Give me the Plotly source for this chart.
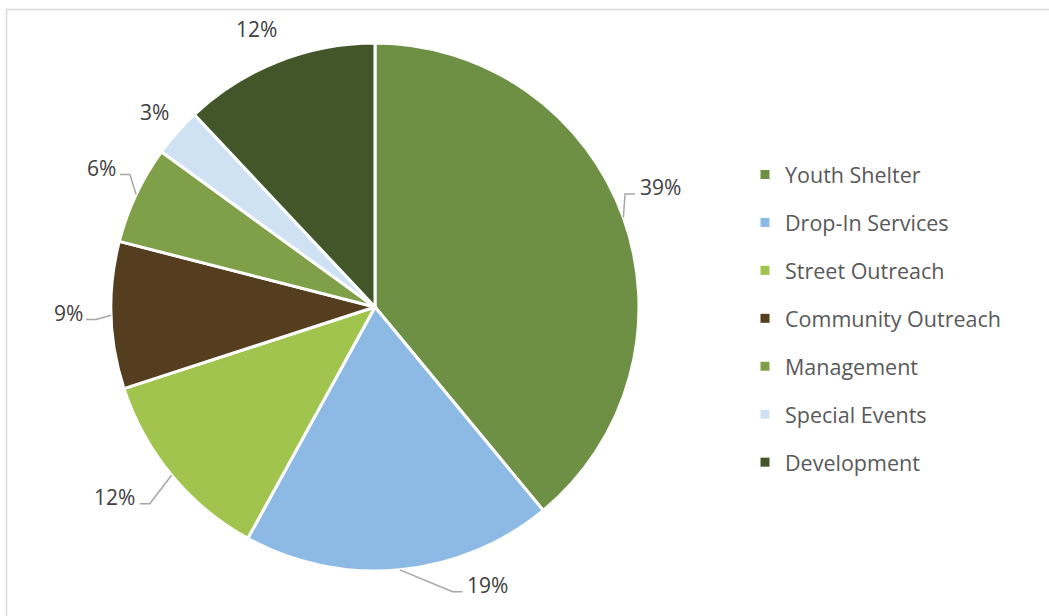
import math
import plotly.graph_objects as go

# Program budget shares
categories = ["Youth Shelter", "Drop-In Services", "Street Outreach",
              "Community Outreach", "Management", "Special Events", "Development"]
shares = [39, 19, 12, 9, 6, 3, 12]
colors = ["#6E9045", "#8CBAE4", "#A0C44E", "#553E1F", "#7FA049", "#CFE2F3", "#42562A"]

# Label placement tweaks (pixels) relative to a point just outside each slice
label_nudge = [(-1, -17), (84, -25), (-26, -4), (-3, -4), (2, -10), (8, 6), (-7, 5)]
has_leader = [True, True, True, True, True, False, False]

W, H = 1049, 616
CX, CY, R = 375, 307, 264
LABEL_GAP = 40
FONT = "Open Sans"


def px(x, y):
    return x / W, 1 - y / H


fig = go.Figure()
fig.add_trace(go.Pie(
    labels=categories, values=shares, sort=False, direction="clockwise",
    rotation=0, marker=dict(colors=colors, line=dict(color="white", width=3)),
    textinfo="none", hoverinfo="label+percent", showlegend=False,
    domain=dict(x=[(CX - R) / W, (CX + R) / W], y=[(H - CY - R) / H, (H - CY + R) / H]),
))

# Legend entries as separate groups so spacing can be controlled
for name, col in zip(categories, colors):
    fig.add_trace(go.Scatter(
        x=[None], y=[None], mode="markers", name=name, legendgroup=name,
        marker=dict(symbol="square", size=9, color=col),
    ))

annotations, shapes = [], []
total = sum(shares)
cum = 0
for v, (dx, dy), lead in zip(shares, label_nudge, has_leader):
    mid = (cum + v / 2) / total * 2 * math.pi
    cum += v
    s, c = math.sin(mid), math.cos(mid)
    ex, ey = CX + R * s, CY - R * c
    tx, ty = CX + (R + LABEL_GAP) * s + dx, CY - (R + LABEL_GAP) * c + dy
    text = f"{v}%"
    annotations.append(dict(
        x=px(tx, ty)[0], y=px(tx, ty)[1], xref="paper", yref="paper",
        text=text, showarrow=False, xanchor="center", yanchor="middle",
        font=dict(family=FONT, size=21, color="#404040"),
    ))
    if lead:
        halfw = 7 * len(text)
        side = 1 if tx > CX else -1
        hx = tx - side * (halfw + 4)
        hy = ty + 7
        kx = hx - side * 10
        pts = [(ex, ey), (kx, hy), (hx, hy)]
        path = "M " + " L ".join(f"{px(a, b)[0]},{px(a, b)[1]}" for a, b in pts)
        shapes.append(dict(type="path", path=path, xref="paper", yref="paper",
                           line=dict(color="#A6A6A6", width=1.5)))

# Chart frame
shapes.append(dict(type="rect", xref="paper", yref="paper",
                   x0=6.5 / W, y0=-0.1, x1=1.1, y1=1 - 9.5 / H,
                   line=dict(color="#D9D9D9", width=1.5), layer="below"))

fig.update_layout(
    width=W, height=H, autosize=False,
    margin=dict(l=0, r=0, t=0, b=0),
    paper_bgcolor="white", plot_bgcolor="white",
    xaxis=dict(visible=False), yaxis=dict(visible=False),
    annotations=annotations, shapes=shapes,
    legend=dict(
        x=(765 - 20) / W, y=1 - 154 / H, xanchor="left", yanchor="top",
        font=dict(family=FONT, size=21.5, color="#595959"),
        tracegroupgap=17, itemwidth=30, bgcolor="rgba(0,0,0,0)",
    ),
    font=dict(family=FONT),
)

fig.write_html("out.html")
